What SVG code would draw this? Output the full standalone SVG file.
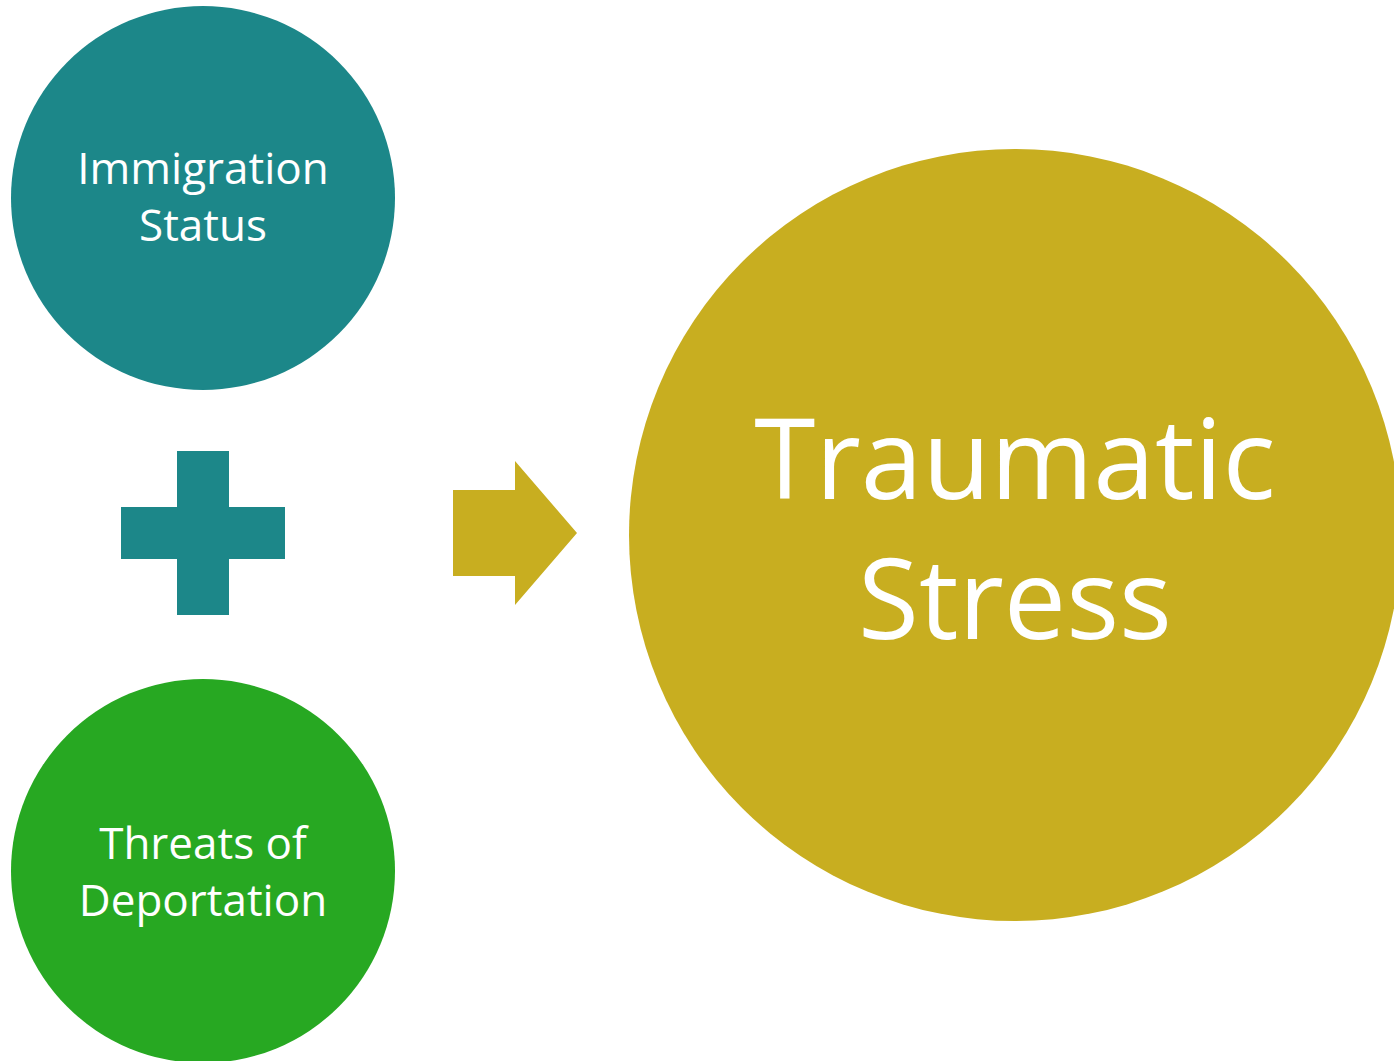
<svg xmlns="http://www.w3.org/2000/svg" width="1394" height="1061" viewBox="0 0 1394 1061">
<style>
.lbl{font-family:"Open Sans","Noto Sans","Liberation Sans",sans-serif;fill:#FFFFFF;text-anchor:middle}
.sm{font-size:44px}
.lg{font-size:111px}
</style>
<rect width="1394" height="1061" fill="#FFFFFF"/>
<g id="immigration-status">
<circle cx="203" cy="198" r="192" fill="#1C8789"/>
<text class="lbl sm" x="203" y="184">Immigration</text>
<text class="lbl sm" x="203" y="241">Status</text>
</g>
<g id="plus">
<rect x="177" y="451" width="52" height="164" fill="#1C8789"/>
<rect x="121" y="507" width="164" height="52" fill="#1C8789"/>
</g>
<g id="threats-of-deportation">
<circle cx="203" cy="871" r="192" fill="#27A822"/>
<text class="lbl sm" x="203" y="859">Threats of</text>
<text class="lbl sm" x="203" y="916">Deportation</text>
</g>
<g id="connectors">
<polygon points="453,490 515,490 515,461 577,533 515,605 515,576 453,576" fill="#C8AE20"/>
</g>
<g id="traumatic-stress">
<circle cx="1015" cy="535" r="386" fill="#C8AE20"/>
<text class="lbl lg" x="1015" y="499">Traumatic</text>
<text class="lbl lg" x="1015" y="639">Stress</text>
</g>
</svg>
